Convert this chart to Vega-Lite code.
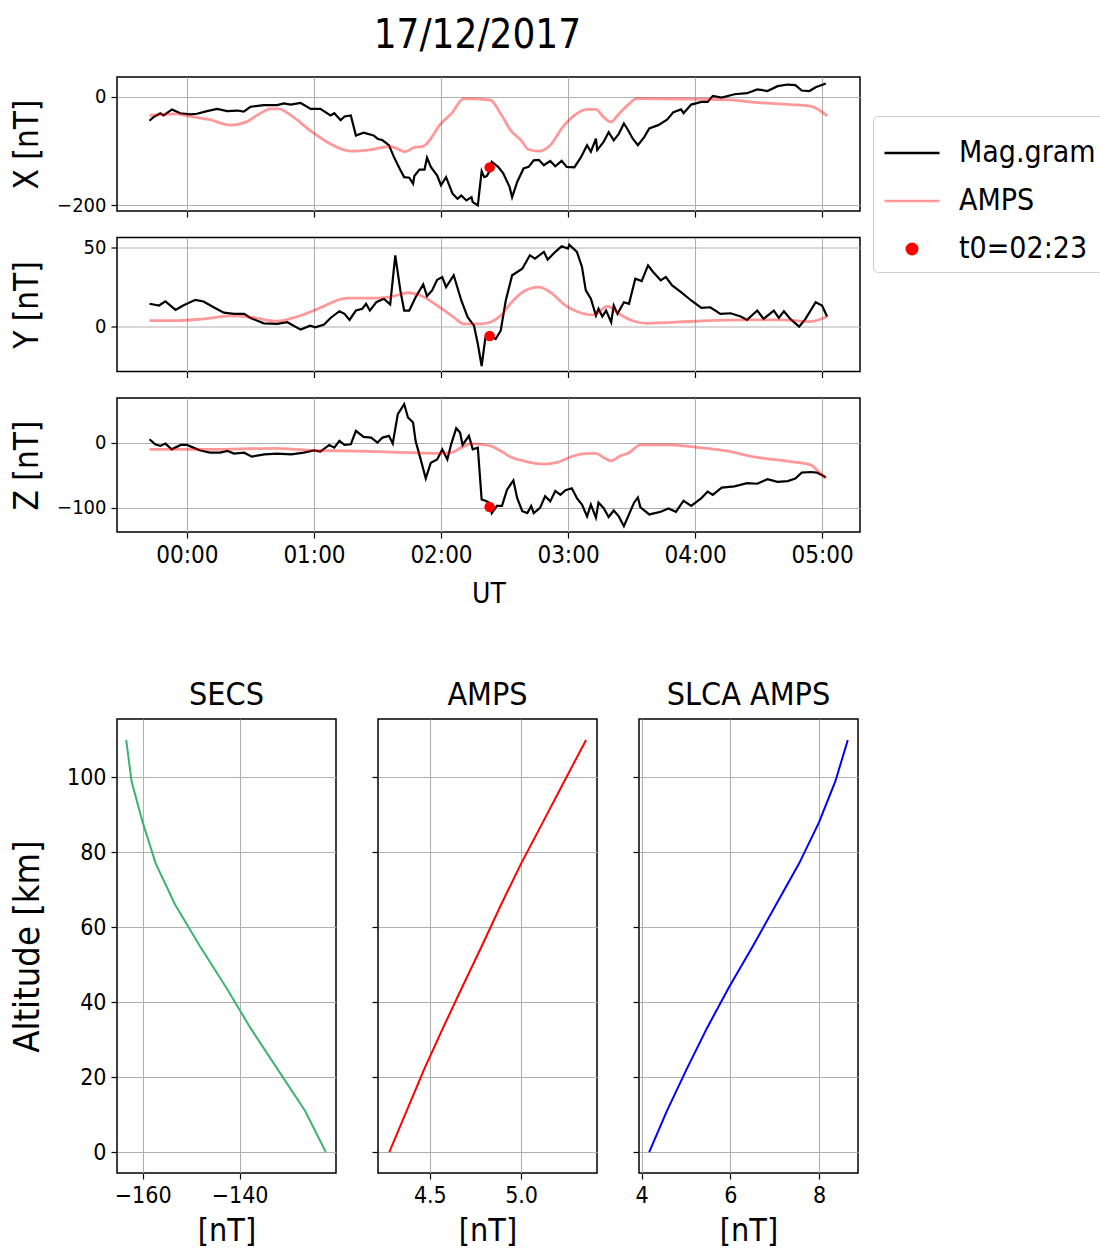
{
  "$schema": "https://vega.github.io/schema/vega-lite/v6.json",
  "background": "white",
  "padding": {"left": 8, "top": 16, "right": 0, "bottom": 5},
  "title": {"text": "17/12/2017", "fontSize": 40, "font": "DejaVu Sans Condensed, DejaVu Sans", "fontWeight": "normal", "offset": 20, "dx": -79, "anchor": "middle", "color": "black"},
  "config": {
    "font": "DejaVu Sans Condensed, DejaVu Sans",
    "view": {"stroke": "black", "strokeWidth": 1.5},
    "axis": {"domain": false, "gridColor": "#b0b0b0", "gridWidth": 1.1, "tickColor": "black", "tickSize": 6, "tickWidth": 1.2, "labelColor": "black", "titleColor": "black", "titleFontWeight": "normal", "labelFont": "DejaVu Sans Condensed, DejaVu Sans", "titleFont": "DejaVu Sans Condensed, DejaVu Sans", "labelPadding": 5},
    "title": {"fontWeight": "normal", "color": "black"}
  },
  "datasets": {
    "ts": [
      {"c":"X","s":"Mag.gram","t":-0.295,"v":-44},{"c":"X","s":"Mag.gram","t":-0.263,"v":-37},{"c":"X","s":"Mag.gram","t":-0.21,"v":-30},{"c":"X","s":"Mag.gram","t":-0.184,"v":-34},{"c":"X","s":"Mag.gram","t":-0.118,"v":-23},{"c":"X","s":"Mag.gram","t":-0.053,"v":-30},{"c":"X","s":"Mag.gram","t":0.026,"v":-32},{"c":"X","s":"Mag.gram","t":0.079,"v":-31},{"c":"X","s":"Mag.gram","t":0.158,"v":-26},{"c":"X","s":"Mag.gram","t":0.237,"v":-22},{"c":"X","s":"Mag.gram","t":0.316,"v":-26},{"c":"X","s":"Mag.gram","t":0.395,"v":-25},{"c":"X","s":"Mag.gram","t":0.447,"v":-27},{"c":"X","s":"Mag.gram","t":0.5,"v":-18},{"c":"X","s":"Mag.gram","t":0.605,"v":-15},{"c":"X","s":"Mag.gram","t":0.71,"v":-15},{"c":"X","s":"Mag.gram","t":0.763,"v":-12},{"c":"X","s":"Mag.gram","t":0.816,"v":-14},{"c":"X","s":"Mag.gram","t":0.895,"v":-11},{"c":"X","s":"Mag.gram","t":0.974,"v":-22},{"c":"X","s":"Mag.gram","t":1.05,"v":-22},{"c":"X","s":"Mag.gram","t":1.13,"v":-34},{"c":"X","s":"Mag.gram","t":1.16,"v":-30},{"c":"X","s":"Mag.gram","t":1.21,"v":-43},{"c":"X","s":"Mag.gram","t":1.24,"v":-36},{"c":"X","s":"Mag.gram","t":1.29,"v":-34},{"c":"X","s":"Mag.gram","t":1.33,"v":-71},{"c":"X","s":"Mag.gram","t":1.39,"v":-66},{"c":"X","s":"Mag.gram","t":1.47,"v":-71},{"c":"X","s":"Mag.gram","t":1.5,"v":-77},{"c":"X","s":"Mag.gram","t":1.54,"v":-80},{"c":"X","s":"Mag.gram","t":1.59,"v":-89},{"c":"X","s":"Mag.gram","t":1.63,"v":-111},{"c":"X","s":"Mag.gram","t":1.68,"v":-135},{"c":"X","s":"Mag.gram","t":1.71,"v":-148},{"c":"X","s":"Mag.gram","t":1.75,"v":-149},{"c":"X","s":"Mag.gram","t":1.78,"v":-160},{"c":"X","s":"Mag.gram","t":1.79,"v":-146},{"c":"X","s":"Mag.gram","t":1.83,"v":-134},{"c":"X","s":"Mag.gram","t":1.87,"v":-134},{"c":"X","s":"Mag.gram","t":1.89,"v":-112},{"c":"X","s":"Mag.gram","t":1.92,"v":-129},{"c":"X","s":"Mag.gram","t":1.97,"v":-145},{"c":"X","s":"Mag.gram","t":2.0,"v":-163},{"c":"X","s":"Mag.gram","t":2.04,"v":-148},{"c":"X","s":"Mag.gram","t":2.09,"v":-178},{"c":"X","s":"Mag.gram","t":2.13,"v":-188},{"c":"X","s":"Mag.gram","t":2.16,"v":-182},{"c":"X","s":"Mag.gram","t":2.2,"v":-191},{"c":"X","s":"Mag.gram","t":2.24,"v":-185},{"c":"X","s":"Mag.gram","t":2.25,"v":-194},{"c":"X","s":"Mag.gram","t":2.29,"v":-200},{"c":"X","s":"Mag.gram","t":2.32,"v":-137},{"c":"X","s":"Mag.gram","t":2.34,"v":-148},{"c":"X","s":"Mag.gram","t":2.36,"v":-146},{"c":"X","s":"Mag.gram","t":2.38,"v":-138},{"c":"X","s":"Mag.gram","t":2.4,"v":-120},{"c":"X","s":"Mag.gram","t":2.45,"v":-129},{"c":"X","s":"Mag.gram","t":2.49,"v":-141},{"c":"X","s":"Mag.gram","t":2.54,"v":-166},{"c":"X","s":"Mag.gram","t":2.56,"v":-185},{"c":"X","s":"Mag.gram","t":2.6,"v":-157},{"c":"X","s":"Mag.gram","t":2.65,"v":-132},{"c":"X","s":"Mag.gram","t":2.69,"v":-129},{"c":"X","s":"Mag.gram","t":2.73,"v":-117},{"c":"X","s":"Mag.gram","t":2.77,"v":-116},{"c":"X","s":"Mag.gram","t":2.81,"v":-126},{"c":"X","s":"Mag.gram","t":2.86,"v":-118},{"c":"X","s":"Mag.gram","t":2.9,"v":-128},{"c":"X","s":"Mag.gram","t":2.95,"v":-118},{"c":"X","s":"Mag.gram","t":2.99,"v":-129},{"c":"X","s":"Mag.gram","t":3.05,"v":-130},{"c":"X","s":"Mag.gram","t":3.1,"v":-112},{"c":"X","s":"Mag.gram","t":3.15,"v":-89},{"c":"X","s":"Mag.gram","t":3.18,"v":-101},{"c":"X","s":"Mag.gram","t":3.22,"v":-77},{"c":"X","s":"Mag.gram","t":3.23,"v":-98},{"c":"X","s":"Mag.gram","t":3.28,"v":-83},{"c":"X","s":"Mag.gram","t":3.32,"v":-65},{"c":"X","s":"Mag.gram","t":3.36,"v":-80},{"c":"X","s":"Mag.gram","t":3.4,"v":-68},{"c":"X","s":"Mag.gram","t":3.44,"v":-49},{"c":"X","s":"Mag.gram","t":3.47,"v":-60},{"c":"X","s":"Mag.gram","t":3.51,"v":-77},{"c":"X","s":"Mag.gram","t":3.55,"v":-89},{"c":"X","s":"Mag.gram","t":3.6,"v":-74},{"c":"X","s":"Mag.gram","t":3.64,"v":-58},{"c":"X","s":"Mag.gram","t":3.71,"v":-52},{"c":"X","s":"Mag.gram","t":3.78,"v":-42},{"c":"X","s":"Mag.gram","t":3.83,"v":-28},{"c":"X","s":"Mag.gram","t":3.89,"v":-23},{"c":"X","s":"Mag.gram","t":3.91,"v":-30},{"c":"X","s":"Mag.gram","t":3.97,"v":-14},{"c":"X","s":"Mag.gram","t":4.05,"v":-9},{"c":"X","s":"Mag.gram","t":4.1,"v":-9},{"c":"X","s":"Mag.gram","t":4.14,"v":2},{"c":"X","s":"Mag.gram","t":4.21,"v":-1},{"c":"X","s":"Mag.gram","t":4.31,"v":5},{"c":"X","s":"Mag.gram","t":4.41,"v":7},{"c":"X","s":"Mag.gram","t":4.49,"v":14},{"c":"X","s":"Mag.gram","t":4.57,"v":11},{"c":"X","s":"Mag.gram","t":4.65,"v":20},{"c":"X","s":"Mag.gram","t":4.73,"v":23},{"c":"X","s":"Mag.gram","t":4.79,"v":22},{"c":"X","s":"Mag.gram","t":4.84,"v":12},{"c":"X","s":"Mag.gram","t":4.9,"v":11},{"c":"X","s":"Mag.gram","t":4.95,"v":18},{"c":"X","s":"Mag.gram","t":5.03,"v":25},
      {"c":"X","s":"AMPS","t":-0.295,"v":-34},{"c":"X","s":"AMPS","t":-0.08,"v":-31},{"c":"X","s":"AMPS","t":0.026,"v":-36},{"c":"X","s":"AMPS","t":0.18,"v":-42},{"c":"X","s":"AMPS","t":0.34,"v":-52},{"c":"X","s":"AMPS","t":0.47,"v":-46},{"c":"X","s":"AMPS","t":0.55,"v":-34},{"c":"X","s":"AMPS","t":0.66,"v":-22},{"c":"X","s":"AMPS","t":0.72,"v":-22},{"c":"X","s":"AMPS","t":0.82,"v":-34},{"c":"X","s":"AMPS","t":0.97,"v":-62},{"c":"X","s":"AMPS","t":1.08,"v":-80},{"c":"X","s":"AMPS","t":1.24,"v":-98},{"c":"X","s":"AMPS","t":1.29,"v":-100},{"c":"X","s":"AMPS","t":1.45,"v":-97},{"c":"X","s":"AMPS","t":1.6,"v":-91},{"c":"X","s":"AMPS","t":1.72,"v":-101},{"c":"X","s":"AMPS","t":1.79,"v":-93},{"c":"X","s":"AMPS","t":1.86,"v":-91},{"c":"X","s":"AMPS","t":2.0,"v":-49},{"c":"X","s":"AMPS","t":2.08,"v":-31},{"c":"X","s":"AMPS","t":2.18,"v":-3},{"c":"X","s":"AMPS","t":2.31,"v":-4},{"c":"X","s":"AMPS","t":2.39,"v":-6},{"c":"X","s":"AMPS","t":2.47,"v":-31},{"c":"X","s":"AMPS","t":2.55,"v":-62},{"c":"X","s":"AMPS","t":2.63,"v":-80},{"c":"X","s":"AMPS","t":2.69,"v":-97},{"c":"X","s":"AMPS","t":2.77,"v":-100},{"c":"X","s":"AMPS","t":2.86,"v":-89},{"c":"X","s":"AMPS","t":2.96,"v":-55},{"c":"X","s":"AMPS","t":3.05,"v":-34},{"c":"X","s":"AMPS","t":3.15,"v":-23},{"c":"X","s":"AMPS","t":3.22,"v":-23},{"c":"X","s":"AMPS","t":3.28,"v":-37},{"c":"X","s":"AMPS","t":3.34,"v":-46},{"c":"X","s":"AMPS","t":3.39,"v":-34},{"c":"X","s":"AMPS","t":3.47,"v":-15},{"c":"X","s":"AMPS","t":3.54,"v":-3},{"c":"X","s":"AMPS","t":3.99,"v":-4},{"c":"X","s":"AMPS","t":4.25,"v":-5},{"c":"X","s":"AMPS","t":4.47,"v":-10},{"c":"X","s":"AMPS","t":4.75,"v":-14},{"c":"X","s":"AMPS","t":4.91,"v":-17},{"c":"X","s":"AMPS","t":5.04,"v":-35},
      {"c":"X","s":"t0=02:23","t":2.383,"v":-130},
      {"c":"Y","s":"Mag.gram","t":-0.295,"v":14.5},{"c":"Y","s":"Mag.gram","t":-0.22,"v":13.4},{"c":"Y","s":"Mag.gram","t":-0.17,"v":16},{"c":"Y","s":"Mag.gram","t":-0.09,"v":10.6},{"c":"Y","s":"Mag.gram","t":-0.03,"v":13.4},{"c":"Y","s":"Mag.gram","t":0.066,"v":17},{"c":"Y","s":"Mag.gram","t":0.13,"v":16},{"c":"Y","s":"Mag.gram","t":0.21,"v":12.3},{"c":"Y","s":"Mag.gram","t":0.29,"v":8.9},{"c":"Y","s":"Mag.gram","t":0.37,"v":8.1},{"c":"Y","s":"Mag.gram","t":0.45,"v":8.1},{"c":"Y","s":"Mag.gram","t":0.5,"v":5.5},{"c":"Y","s":"Mag.gram","t":0.605,"v":2.1},{"c":"Y","s":"Mag.gram","t":0.71,"v":1.7},{"c":"Y","s":"Mag.gram","t":0.79,"v":2.8},{"c":"Y","s":"Mag.gram","t":0.895,"v":-1.9},{"c":"Y","s":"Mag.gram","t":0.97,"v":0.6},{"c":"Y","s":"Mag.gram","t":1.01,"v":-0.4},{"c":"Y","s":"Mag.gram","t":1.08,"v":1.3},{"c":"Y","s":"Mag.gram","t":1.13,"v":5.5},{"c":"Y","s":"Mag.gram","t":1.2,"v":9.8},{"c":"Y","s":"Mag.gram","t":1.24,"v":8.1},{"c":"Y","s":"Mag.gram","t":1.28,"v":4.3},{"c":"Y","s":"Mag.gram","t":1.33,"v":10.2},{"c":"Y","s":"Mag.gram","t":1.38,"v":11.3},{"c":"Y","s":"Mag.gram","t":1.41,"v":14.5},{"c":"Y","s":"Mag.gram","t":1.44,"v":10.2},{"c":"Y","s":"Mag.gram","t":1.49,"v":15.5},{"c":"Y","s":"Mag.gram","t":1.55,"v":17.7},{"c":"Y","s":"Mag.gram","t":1.6,"v":14},{"c":"Y","s":"Mag.gram","t":1.64,"v":45.3},{"c":"Y","s":"Mag.gram","t":1.68,"v":23},{"c":"Y","s":"Mag.gram","t":1.71,"v":10.2},{"c":"Y","s":"Mag.gram","t":1.75,"v":10.2},{"c":"Y","s":"Mag.gram","t":1.8,"v":18.7},{"c":"Y","s":"Mag.gram","t":1.86,"v":26.8},{"c":"Y","s":"Mag.gram","t":1.89,"v":19.4},{"c":"Y","s":"Mag.gram","t":1.93,"v":23},{"c":"Y","s":"Mag.gram","t":1.97,"v":29.8},{"c":"Y","s":"Mag.gram","t":2.01,"v":31.5},{"c":"Y","s":"Mag.gram","t":2.04,"v":25.1},{"c":"Y","s":"Mag.gram","t":2.1,"v":32.6},{"c":"Y","s":"Mag.gram","t":2.16,"v":16.6},{"c":"Y","s":"Mag.gram","t":2.21,"v":6},{"c":"Y","s":"Mag.gram","t":2.26,"v":0.6},{"c":"Y","s":"Mag.gram","t":2.29,"v":-11},{"c":"Y","s":"Mag.gram","t":2.32,"v":-25},{"c":"Y","s":"Mag.gram","t":2.35,"v":-6.8},{"c":"Y","s":"Mag.gram","t":2.39,"v":-5.7},{"c":"Y","s":"Mag.gram","t":2.43,"v":-7.9},{"c":"Y","s":"Mag.gram","t":2.47,"v":-2.6},{"c":"Y","s":"Mag.gram","t":2.51,"v":16.6},{"c":"Y","s":"Mag.gram","t":2.56,"v":32.6},{"c":"Y","s":"Mag.gram","t":2.6,"v":34.7},{"c":"Y","s":"Mag.gram","t":2.64,"v":36.8},{"c":"Y","s":"Mag.gram","t":2.7,"v":45.3},{"c":"Y","s":"Mag.gram","t":2.74,"v":43.2},{"c":"Y","s":"Mag.gram","t":2.81,"v":47.5},{"c":"Y","s":"Mag.gram","t":2.84,"v":42.6},{"c":"Y","s":"Mag.gram","t":2.9,"v":47.5},{"c":"Y","s":"Mag.gram","t":2.95,"v":51},{"c":"Y","s":"Mag.gram","t":3.0,"v":49.6},{"c":"Y","s":"Mag.gram","t":3.01,"v":52},{"c":"Y","s":"Mag.gram","t":3.07,"v":47.5},{"c":"Y","s":"Mag.gram","t":3.11,"v":37.9},{"c":"Y","s":"Mag.gram","t":3.14,"v":23},{"c":"Y","s":"Mag.gram","t":3.18,"v":17.7},{"c":"Y","s":"Mag.gram","t":3.22,"v":7},{"c":"Y","s":"Mag.gram","t":3.24,"v":11.3},{"c":"Y","s":"Mag.gram","t":3.27,"v":6.4},{"c":"Y","s":"Mag.gram","t":3.3,"v":10.2},{"c":"Y","s":"Mag.gram","t":3.34,"v":2.8},{"c":"Y","s":"Mag.gram","t":3.36,"v":13.4},{"c":"Y","s":"Mag.gram","t":3.39,"v":8.1},{"c":"Y","s":"Mag.gram","t":3.44,"v":15.5},{"c":"Y","s":"Mag.gram","t":3.48,"v":14.5},{"c":"Y","s":"Mag.gram","t":3.53,"v":30.4},{"c":"Y","s":"Mag.gram","t":3.58,"v":28.9},{"c":"Y","s":"Mag.gram","t":3.63,"v":38.9},{"c":"Y","s":"Mag.gram","t":3.67,"v":34.7},{"c":"Y","s":"Mag.gram","t":3.73,"v":29.4},{"c":"Y","s":"Mag.gram","t":3.77,"v":31.5},{"c":"Y","s":"Mag.gram","t":3.82,"v":26.2},{"c":"Y","s":"Mag.gram","t":3.89,"v":21.9},{"c":"Y","s":"Mag.gram","t":3.97,"v":16.6},{"c":"Y","s":"Mag.gram","t":4.05,"v":11.9},{"c":"Y","s":"Mag.gram","t":4.12,"v":12.3},{"c":"Y","s":"Mag.gram","t":4.2,"v":8.1},{"c":"Y","s":"Mag.gram","t":4.28,"v":8.5},{"c":"Y","s":"Mag.gram","t":4.36,"v":6.4},{"c":"Y","s":"Mag.gram","t":4.41,"v":4.3},{"c":"Y","s":"Mag.gram","t":4.49,"v":10.2},{"c":"Y","s":"Mag.gram","t":4.54,"v":4.9},{"c":"Y","s":"Mag.gram","t":4.62,"v":10.2},{"c":"Y","s":"Mag.gram","t":4.66,"v":5.5},{"c":"Y","s":"Mag.gram","t":4.7,"v":9.8},{"c":"Y","s":"Mag.gram","t":4.75,"v":4.9},{"c":"Y","s":"Mag.gram","t":4.82,"v":0},{"c":"Y","s":"Mag.gram","t":4.87,"v":4.9},{"c":"Y","s":"Mag.gram","t":4.95,"v":15.5},{"c":"Y","s":"Mag.gram","t":5.0,"v":13.4},{"c":"Y","s":"Mag.gram","t":5.04,"v":6.4},
      {"c":"Y","s":"AMPS","t":-0.295,"v":3.8},{"c":"Y","s":"AMPS","t":-0.08,"v":3.8},{"c":"Y","s":"AMPS","t":0.13,"v":4.9},{"c":"Y","s":"AMPS","t":0.34,"v":6.8},{"c":"Y","s":"AMPS","t":0.5,"v":6},{"c":"Y","s":"AMPS","t":0.71,"v":3.4},{"c":"Y","s":"AMPS","t":0.87,"v":6.4},{"c":"Y","s":"AMPS","t":1.03,"v":11.3},{"c":"Y","s":"AMPS","t":1.26,"v":18.1},{"c":"Y","s":"AMPS","t":1.5,"v":18.1},{"c":"Y","s":"AMPS","t":1.62,"v":19.2},{"c":"Y","s":"AMPS","t":1.74,"v":21.5},{"c":"Y","s":"AMPS","t":1.84,"v":19.8},{"c":"Y","s":"AMPS","t":1.97,"v":13.4},{"c":"Y","s":"AMPS","t":2.1,"v":6},{"c":"Y","s":"AMPS","t":2.18,"v":1.7},{"c":"Y","s":"AMPS","t":2.31,"v":1.7},{"c":"Y","s":"AMPS","t":2.39,"v":2.8},{"c":"Y","s":"AMPS","t":2.47,"v":7},{"c":"Y","s":"AMPS","t":2.55,"v":14.9},{"c":"Y","s":"AMPS","t":2.65,"v":22.3},{"c":"Y","s":"AMPS","t":2.77,"v":25.1},{"c":"Y","s":"AMPS","t":2.86,"v":21.9},{"c":"Y","s":"AMPS","t":2.97,"v":14},{"c":"Y","s":"AMPS","t":3.07,"v":9.6},{"c":"Y","s":"AMPS","t":3.2,"v":7.4},{"c":"Y","s":"AMPS","t":3.31,"v":12.8},{"c":"Y","s":"AMPS","t":3.41,"v":7.7},{"c":"Y","s":"AMPS","t":3.52,"v":3.4},{"c":"Y","s":"AMPS","t":3.62,"v":2.1},{"c":"Y","s":"AMPS","t":3.99,"v":3.4},{"c":"Y","s":"AMPS","t":4.41,"v":4.3},{"c":"Y","s":"AMPS","t":4.67,"v":4.3},{"c":"Y","s":"AMPS","t":4.91,"v":3.2},{"c":"Y","s":"AMPS","t":5.04,"v":6.4},
      {"c":"Y","s":"t0=02:23","t":2.383,"v":-6},
      {"c":"Z","s":"Mag.gram","t":-0.295,"v":5.1},{"c":"Z","s":"Mag.gram","t":-0.25,"v":-2.6},{"c":"Z","s":"Mag.gram","t":-0.21,"v":-5.1},{"c":"Z","s":"Mag.gram","t":-0.17,"v":-1.5},{"c":"Z","s":"Mag.gram","t":-0.12,"v":-10.3},{"c":"Z","s":"Mag.gram","t":-0.05,"v":-3.6},{"c":"Z","s":"Mag.gram","t":0.0,"v":-3.6},{"c":"Z","s":"Mag.gram","t":0.05,"v":-7.7},{"c":"Z","s":"Mag.gram","t":0.1,"v":-11.8},{"c":"Z","s":"Mag.gram","t":0.18,"v":-15.4},{"c":"Z","s":"Mag.gram","t":0.26,"v":-15.4},{"c":"Z","s":"Mag.gram","t":0.32,"v":-12.8},{"c":"Z","s":"Mag.gram","t":0.37,"v":-16.9},{"c":"Z","s":"Mag.gram","t":0.45,"v":-15.4},{"c":"Z","s":"Mag.gram","t":0.51,"v":-21.5},{"c":"Z","s":"Mag.gram","t":0.61,"v":-18},{"c":"Z","s":"Mag.gram","t":0.71,"v":-16.9},{"c":"Z","s":"Mag.gram","t":0.82,"v":-18},{"c":"Z","s":"Mag.gram","t":0.92,"v":-15.4},{"c":"Z","s":"Mag.gram","t":1.0,"v":-11.8},{"c":"Z","s":"Mag.gram","t":1.05,"v":-13.9},{"c":"Z","s":"Mag.gram","t":1.12,"v":-3.6},{"c":"Z","s":"Mag.gram","t":1.16,"v":-7.7},{"c":"Z","s":"Mag.gram","t":1.2,"v":2.6},{"c":"Z","s":"Mag.gram","t":1.24,"v":-3.6},{"c":"Z","s":"Mag.gram","t":1.29,"v":-2.6},{"c":"Z","s":"Mag.gram","t":1.33,"v":18},{"c":"Z","s":"Mag.gram","t":1.39,"v":8.7},{"c":"Z","s":"Mag.gram","t":1.45,"v":7.7},{"c":"Z","s":"Mag.gram","t":1.5,"v":0},{"c":"Z","s":"Mag.gram","t":1.54,"v":7.7},{"c":"Z","s":"Mag.gram","t":1.59,"v":10.3},{"c":"Z","s":"Mag.gram","t":1.62,"v":-1.5},{"c":"Z","s":"Mag.gram","t":1.66,"v":43.6},{"c":"Z","s":"Mag.gram","t":1.71,"v":59},{"c":"Z","s":"Mag.gram","t":1.74,"v":38.5},{"c":"Z","s":"Mag.gram","t":1.78,"v":30.8},{"c":"Z","s":"Mag.gram","t":1.8,"v":2.6},{"c":"Z","s":"Mag.gram","t":1.84,"v":-25.7},{"c":"Z","s":"Mag.gram","t":1.88,"v":-54.9},{"c":"Z","s":"Mag.gram","t":1.92,"v":-30.8},{"c":"Z","s":"Mag.gram","t":1.97,"v":-25.7},{"c":"Z","s":"Mag.gram","t":2.01,"v":-10.3},{"c":"Z","s":"Mag.gram","t":2.05,"v":-25.7},{"c":"Z","s":"Mag.gram","t":2.08,"v":-2.6},{"c":"Z","s":"Mag.gram","t":2.12,"v":22},{"c":"Z","s":"Mag.gram","t":2.15,"v":15.4},{"c":"Z","s":"Mag.gram","t":2.17,"v":-3.6},{"c":"Z","s":"Mag.gram","t":2.22,"v":10.3},{"c":"Z","s":"Mag.gram","t":2.25,"v":-10.3},{"c":"Z","s":"Mag.gram","t":2.29,"v":-7.7},{"c":"Z","s":"Mag.gram","t":2.32,"v":-87},{"c":"Z","s":"Mag.gram","t":2.35,"v":-89},{"c":"Z","s":"Mag.gram","t":2.38,"v":-92},{"c":"Z","s":"Mag.gram","t":2.4,"v":-108},{"c":"Z","s":"Mag.gram","t":2.44,"v":-97},{"c":"Z","s":"Mag.gram","t":2.48,"v":-97},{"c":"Z","s":"Mag.gram","t":2.52,"v":-72},{"c":"Z","s":"Mag.gram","t":2.57,"v":-58},{"c":"Z","s":"Mag.gram","t":2.6,"v":-85},{"c":"Z","s":"Mag.gram","t":2.64,"v":-105},{"c":"Z","s":"Mag.gram","t":2.68,"v":-108},{"c":"Z","s":"Mag.gram","t":2.71,"v":-97},{"c":"Z","s":"Mag.gram","t":2.73,"v":-108},{"c":"Z","s":"Mag.gram","t":2.78,"v":-100},{"c":"Z","s":"Mag.gram","t":2.82,"v":-82},{"c":"Z","s":"Mag.gram","t":2.86,"v":-90},{"c":"Z","s":"Mag.gram","t":2.9,"v":-74},{"c":"Z","s":"Mag.gram","t":2.94,"v":-80},{"c":"Z","s":"Mag.gram","t":2.98,"v":-73},{"c":"Z","s":"Mag.gram","t":3.03,"v":-70},{"c":"Z","s":"Mag.gram","t":3.07,"v":-85},{"c":"Z","s":"Mag.gram","t":3.11,"v":-95},{"c":"Z","s":"Mag.gram","t":3.15,"v":-113},{"c":"Z","s":"Mag.gram","t":3.18,"v":-95},{"c":"Z","s":"Mag.gram","t":3.22,"v":-115},{"c":"Z","s":"Mag.gram","t":3.24,"v":-92},{"c":"Z","s":"Mag.gram","t":3.28,"v":-100},{"c":"Z","s":"Mag.gram","t":3.32,"v":-114},{"c":"Z","s":"Mag.gram","t":3.36,"v":-104},{"c":"Z","s":"Mag.gram","t":3.4,"v":-113},{"c":"Z","s":"Mag.gram","t":3.44,"v":-128},{"c":"Z","s":"Mag.gram","t":3.48,"v":-110},{"c":"Z","s":"Mag.gram","t":3.52,"v":-92},{"c":"Z","s":"Mag.gram","t":3.55,"v":-84},{"c":"Z","s":"Mag.gram","t":3.57,"v":-99},{"c":"Z","s":"Mag.gram","t":3.64,"v":-110},{"c":"Z","s":"Mag.gram","t":3.73,"v":-106},{"c":"Z","s":"Mag.gram","t":3.79,"v":-101},{"c":"Z","s":"Mag.gram","t":3.85,"v":-106},{"c":"Z","s":"Mag.gram","t":3.91,"v":-89},{"c":"Z","s":"Mag.gram","t":3.97,"v":-97},{"c":"Z","s":"Mag.gram","t":4.05,"v":-85},{"c":"Z","s":"Mag.gram","t":4.1,"v":-75},{"c":"Z","s":"Mag.gram","t":4.14,"v":-80},{"c":"Z","s":"Mag.gram","t":4.21,"v":-69},{"c":"Z","s":"Mag.gram","t":4.31,"v":-67},{"c":"Z","s":"Mag.gram","t":4.41,"v":-62},{"c":"Z","s":"Mag.gram","t":4.49,"v":-63},{"c":"Z","s":"Mag.gram","t":4.57,"v":-56},{"c":"Z","s":"Mag.gram","t":4.65,"v":-60},{"c":"Z","s":"Mag.gram","t":4.73,"v":-59},{"c":"Z","s":"Mag.gram","t":4.79,"v":-55},{"c":"Z","s":"Mag.gram","t":4.84,"v":-46},{"c":"Z","s":"Mag.gram","t":4.91,"v":-45},{"c":"Z","s":"Mag.gram","t":4.96,"v":-46},{"c":"Z","s":"Mag.gram","t":5.03,"v":-53},
      {"c":"Z","s":"AMPS","t":-0.295,"v":-10.3},{"c":"Z","s":"AMPS","t":0.18,"v":-10.3},{"c":"Z","s":"AMPS","t":0.68,"v":-8.7},{"c":"Z","s":"AMPS","t":0.97,"v":-11.8},{"c":"Z","s":"AMPS","t":1.24,"v":-12.8},{"c":"Z","s":"AMPS","t":1.5,"v":-13.9},{"c":"Z","s":"AMPS","t":1.76,"v":-15.4},{"c":"Z","s":"AMPS","t":1.97,"v":-16.4},{"c":"Z","s":"AMPS","t":2.08,"v":-15.4},{"c":"Z","s":"AMPS","t":2.16,"v":-7.7},{"c":"Z","s":"AMPS","t":2.24,"v":-1.5},{"c":"Z","s":"AMPS","t":2.31,"v":-2.6},{"c":"Z","s":"AMPS","t":2.39,"v":-5.1},{"c":"Z","s":"AMPS","t":2.47,"v":-12.8},{"c":"Z","s":"AMPS","t":2.55,"v":-22},{"c":"Z","s":"AMPS","t":2.65,"v":-28},{"c":"Z","s":"AMPS","t":2.81,"v":-33},{"c":"Z","s":"AMPS","t":2.92,"v":-30},{"c":"Z","s":"AMPS","t":3.02,"v":-22},{"c":"Z","s":"AMPS","t":3.13,"v":-17},{"c":"Z","s":"AMPS","t":3.22,"v":-16.4},{"c":"Z","s":"AMPS","t":3.28,"v":-23},{"c":"Z","s":"AMPS","t":3.34,"v":-28},{"c":"Z","s":"AMPS","t":3.41,"v":-20.5},{"c":"Z","s":"AMPS","t":3.48,"v":-15.4},{"c":"Z","s":"AMPS","t":3.57,"v":-3.6},{"c":"Z","s":"AMPS","t":3.78,"v":-3.6},{"c":"Z","s":"AMPS","t":3.99,"v":-6.7},{"c":"Z","s":"AMPS","t":4.25,"v":-12.8},{"c":"Z","s":"AMPS","t":4.47,"v":-22},{"c":"Z","s":"AMPS","t":4.75,"v":-29},{"c":"Z","s":"AMPS","t":4.91,"v":-34},{"c":"Z","s":"AMPS","t":4.97,"v":-44},{"c":"Z","s":"AMPS","t":5.03,"v":-55},
      {"c":"Z","s":"t0=02:23","t":2.383,"v":-98.5}
    ],
    "alt": [
      {"p":"SECS","a":0,"v":-122.2},{"p":"SECS","a":11,"v":-126.5},{"p":"SECS","a":22,"v":-132.1},{"p":"SECS","a":33,"v":-137.7},{"p":"SECS","a":44,"v":-142.8},{"p":"SECS","a":55,"v":-148.2},{"p":"SECS","a":66,"v":-153.3},{"p":"SECS","a":77,"v":-157.3},{"p":"SECS","a":88,"v":-160.0},{"p":"SECS","a":99,"v":-162.3},{"p":"SECS","a":110,"v":-163.4},
      {"p":"AMPS","a":0,"v":4.278},{"p":"AMPS","a":11,"v":4.373},{"p":"AMPS","a":22,"v":4.468},{"p":"AMPS","a":33,"v":4.571},{"p":"AMPS","a":44,"v":4.677},{"p":"AMPS","a":55,"v":4.785},{"p":"AMPS","a":66,"v":4.89},{"p":"AMPS","a":77,"v":5.0},{"p":"AMPS","a":88,"v":5.119},{"p":"AMPS","a":99,"v":5.237},{"p":"AMPS","a":110,"v":5.356},
      {"p":"SLCA","a":0,"v":4.17},{"p":"SLCA","a":11,"v":4.57},{"p":"SLCA","a":22,"v":5.01},{"p":"SLCA","a":33,"v":5.47},{"p":"SLCA","a":44,"v":5.97},{"p":"SLCA","a":55,"v":6.51},{"p":"SLCA","a":66,"v":7.03},{"p":"SLCA","a":77,"v":7.55},{"p":"SLCA","a":88,"v":8.0},{"p":"SLCA","a":99,"v":8.37},{"p":"SLCA","a":110,"v":8.65}
    ]
  },
  "resolve": {"scale": {"x": "independent", "y": "independent"}},
  "spacing": 69,
  "vconcat": [
    {
      "bounds": "flush",
      "spacing": 26.5,
      "resolve": {"scale": {"x": "independent", "y": "independent"}},
      "vconcat": [
        {
          "width": 743, "height": 134,
          "data": {"name": "ts"},
          "transform": [{"filter": "datum.c === 'X'"}],
          "encoding": {
            "x": {"field": "t", "type": "quantitative", "scale": {"domain": [-0.551, 5.299], "nice": false, "zero": false}, "axis": {"values": [0, 1, 2, 3, 4, 5], "labels": false, "title": null}},
            "y": {"field": "v", "type": "quantitative", "scale": {"domain": [-210.5, 36.9], "nice": false, "zero": false}, "axis": {"values": [-200, 0], "title": "X [nT]", "titleFontSize": 33, "labelFontSize": 20, "minExtent": 62, "maxExtent": 62, "titlePadding": 11}},
            "color": {"field": "s", "type": "nominal", "scale": {"domain": ["Mag.gram", "AMPS", "t0=02:23"], "range": ["black", "red", "red"]}}
          },
          "layer": [
            {"transform": [{"filter": "datum.s === 'Mag.gram'"}], "mark": {"type": "line", "strokeWidth": 2.2},
             "encoding": {"color": {"field": "s", "type": "nominal", "scale": {"domain": ["Mag.gram", "AMPS", "t0=02:23"], "range": ["black", "red", "red"]},
               "legend": {"title": null, "orient": "none", "legendX": 756, "legendY": 39, "labelFont": "DejaVu Sans Condensed, DejaVu Sans", "labelFontSize": 30, "labelColor": "black", "symbolSize": 1936, "symbolStrokeWidth": 2.5, "rowPadding": 4, "padding": 8, "strokeColor": "#cccccc", "cornerRadius": 5, "fillColor": "white", "symbolOffset": 2, "labelOffset": 18,
                 "encode": {"symbols": {"update": {
                   "shape": {"signal": "datum.value === 't0=02:23' ? 'circle' : 'stroke'"},
                   "size": {"signal": "datum.value === 't0=02:23' ? 110 : 3025"},
                   "fill": {"signal": "datum.value === 't0=02:23' ? 'red' : 'transparent'"},
                   "stroke": {"signal": "datum.value === 'Mag.gram' ? 'black' : (datum.value === 'AMPS' ? 'red' : 'transparent')"},
                   "opacity": {"signal": "datum.value === 'AMPS' ? 0.4 : 1"},
                   "strokeWidth": {"value": 2.5}
                 }}}}}}},
            {"transform": [{"filter": "datum.s === 'AMPS'"}], "mark": {"type": "line", "strokeWidth": 2.8, "opacity": 0.4, "interpolate": "monotone"}},
            {"transform": [{"filter": "datum.s === 't0=02:23'"}], "mark": {"type": "circle", "size": 110, "opacity": 1}}
          ]
        },
        {
          "width": 743, "height": 134,
          "data": {"name": "ts"},
          "transform": [{"filter": "datum.c === 'Y'"}],
          "encoding": {
            "x": {"field": "t", "type": "quantitative", "scale": {"domain": [-0.551, 5.299], "nice": false, "zero": false}, "axis": {"values": [0, 1, 2, 3, 4, 5], "labels": false, "title": null}},
            "y": {"field": "v", "type": "quantitative", "scale": {"domain": [-28.5, 56.6], "nice": false, "zero": false}, "axis": {"values": [0, 50], "title": "Y [nT]", "titleFontSize": 33, "labelFontSize": 20, "minExtent": 62, "maxExtent": 62, "titlePadding": 11}},
            "color": {"field": "s", "type": "nominal", "scale": {"domain": ["Mag.gram", "AMPS", "t0=02:23"], "range": ["black", "red", "red"]}}
          },
          "layer": [
            {"transform": [{"filter": "datum.s === 'Mag.gram'"}], "mark": {"type": "line", "strokeWidth": 2.2}},
            {"transform": [{"filter": "datum.s === 'AMPS'"}], "mark": {"type": "line", "strokeWidth": 2.8, "opacity": 0.4, "interpolate": "monotone"}},
            {"transform": [{"filter": "datum.s === 't0=02:23'"}], "mark": {"type": "circle", "size": 110, "opacity": 1}}
          ]
        },
        {
          "width": 743, "height": 134,
          "data": {"name": "ts"},
          "transform": [{"filter": "datum.c === 'Z'"}],
          "encoding": {
            "x": {"field": "t", "type": "quantitative", "scale": {"domain": [-0.551, 5.299], "nice": false, "zero": false}, "axis": {"values": [0, 1, 2, 3, 4, 5], "labelExpr": "'0' + datum.value + ':00'", "labelFontSize": 24, "title": "UT", "titleFontSize": 28, "titlePadding": 13}},
            "y": {"field": "v", "type": "quantitative", "scale": {"domain": [-136.9, 68.3], "nice": false, "zero": false}, "axis": {"values": [-100, 0], "title": "Z [nT]", "titleFontSize": 33, "labelFontSize": 20, "minExtent": 62, "maxExtent": 62, "titlePadding": 11}},
            "color": {"field": "s", "type": "nominal", "scale": {"domain": ["Mag.gram", "AMPS", "t0=02:23"], "range": ["black", "red", "red"]}}
          },
          "layer": [
            {"transform": [{"filter": "datum.s === 'Mag.gram'"}], "mark": {"type": "line", "strokeWidth": 2.2}},
            {"transform": [{"filter": "datum.s === 'AMPS'"}], "mark": {"type": "line", "strokeWidth": 2.8, "opacity": 0.4, "interpolate": "monotone"}},
            {"transform": [{"filter": "datum.s === 't0=02:23'"}], "mark": {"type": "circle", "size": 110, "opacity": 1}}
          ]
        }
      ]
    },
    {
      "spacing": 33,
      "resolve": {"scale": {"x": "independent", "y": "independent"}},
      "hconcat": [
        {
          "width": 219, "height": 454,
          "title": {"text": "SECS", "fontSize": 32, "offset": 7},
          "data": {"name": "alt"},
          "transform": [{"filter": "datum.p === 'SECS'"}],
          "mark": {"type": "line", "color": "#3cb371", "strokeWidth": 2},
          "encoding": {
            "x": {"field": "v", "type": "quantitative", "scale": {"domain": [-165.3, -120.1], "nice": false, "zero": false}, "axis": {"values": [-160, -140], "title": "[nT]", "titleFontSize": 32, "labelFontSize": 23, "titlePadding": 8}},
            "y": {"field": "a", "type": "quantitative", "scale": {"domain": [-5.6, 115.6], "nice": false, "zero": false}, "axis": {"values": [0, 20, 40, 60, 80, 100], "title": "Altitude [km]", "titleFontSize": 36, "labelFontSize": 23, "minExtent": 62, "maxExtent": 62, "titlePadding": 9}},
            "order": {"field": "a", "type": "quantitative"}
          }
        },
        {
          "width": 219, "height": 454,
          "title": {"text": "AMPS", "fontSize": 32, "offset": 7},
          "data": {"name": "alt"},
          "transform": [{"filter": "datum.p === 'AMPS'"}],
          "mark": {"type": "line", "color": "red", "strokeWidth": 2},
          "encoding": {
            "x": {"field": "v", "type": "quantitative", "scale": {"domain": [4.216, 5.416], "nice": false, "zero": false}, "axis": {"values": [4.5, 5.0], "format": ".1f", "title": "[nT]", "titleFontSize": 32, "labelFontSize": 23, "titlePadding": 8}},
            "y": {"field": "a", "type": "quantitative", "scale": {"domain": [-5.6, 115.6], "nice": false, "zero": false}, "axis": {"values": [0, 20, 40, 60, 80, 100], "labels": false, "title": null, "minExtent": 6, "maxExtent": 6}},
            "order": {"field": "a", "type": "quantitative"}
          }
        },
        {
          "width": 219, "height": 454,
          "title": {"text": "SLCA AMPS", "fontSize": 32, "offset": 7},
          "data": {"name": "alt"},
          "transform": [{"filter": "datum.p === 'SLCA'"}],
          "mark": {"type": "line", "color": "blue", "strokeWidth": 2},
          "encoding": {
            "x": {"field": "v", "type": "quantitative", "scale": {"domain": [3.94, 8.88], "nice": false, "zero": false}, "axis": {"values": [4, 6, 8], "title": "[nT]", "titleFontSize": 32, "labelFontSize": 23, "titlePadding": 8}},
            "y": {"field": "a", "type": "quantitative", "scale": {"domain": [-5.6, 115.6], "nice": false, "zero": false}, "axis": {"values": [0, 20, 40, 60, 80, 100], "labels": false, "title": null, "minExtent": 6, "maxExtent": 6}},
            "order": {"field": "a", "type": "quantitative"}
          }
        }
      ]
    }
  ]
}
